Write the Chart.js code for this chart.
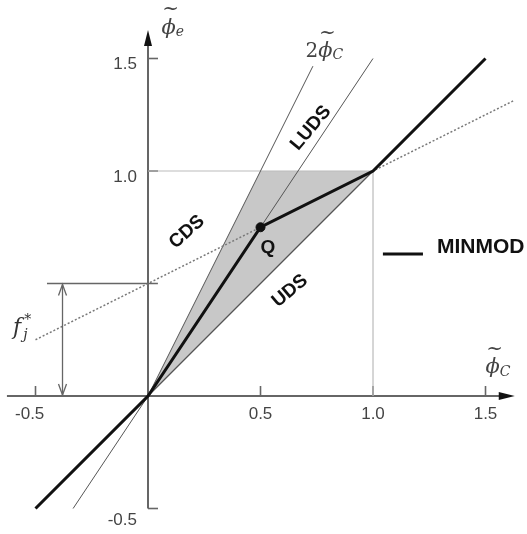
<!DOCTYPE html>
<html>
<head>
<meta charset="utf-8">
<script src="https://cdn.jsdelivr.net/npm/chart.js@4.4.0/dist/chart.umd.min.js"></script>
<style>
  html, body { margin: 0; padding: 0; background: #fff; }
  #wrap { width: 527px; height: 534px; }
</style>
</head>
<body>
<div id="wrap"><canvas id="nvd" width="527" height="534"></canvas></div>
<script>
// normalised variable diagram: face value against upwind-node value
const minmodX = [-0.5, 0, 0.5, 1, 1.5];
const minmodY = [-0.5, 0, 0.75, 1, 1.5];
const cdsX = [-0.5, 1.63];
const cdsY = [0.25, 1.315];
const ludsX = [-0.333, 1];
const ludsY = [-0.5, 1.5];
const twiceX = [0, 0.733];
const twiceY = [0, 1.466];
const udsX = [0, 1];
const udsY = [0, 1];
const tvdX = [0, 0.5, 1, 0];
const tvdY = [0, 1, 1, 0];
const guideX = [0, 1, 1];
const guideY = [1, 1, 0];
const qPoint = [0.5, 0.75];
const xTicks = [-0.5, 0.5, 1.0, 1.5];
const xTickLabels = ['-0.5', '0.5', '1.0', '1.5'];
const yTicks = [1.5, 1.0, -0.5];
const yTickLabels = ['1.5', '1.0', '-0.5'];
const fStar = 0.5;

function pts(xs, ys) {
  return xs.map((x, i) => ({ x: x, y: ys[i] }));
}

function lineSet(data, color, width, order, dash) {
  return {
    data: data,
    showLine: true,
    borderColor: color,
    borderWidth: width,
    borderDash: dash || [],
    pointRadius: 0,
    fill: false,
    order: order
  };
}

function arrowHead(ctx, x, y, dx, dy, len, half) {
  // filled triangle pointing along (dx, dy)
  ctx.beginPath();
  ctx.moveTo(x, y);
  ctx.lineTo(x - dx * len - dy * half, y - dy * len + dx * half);
  ctx.lineTo(x - dx * len + dy * half, y - dy * len - dx * half);
  ctx.closePath();
  ctx.fill();
}

function openHead(ctx, x, y, dir) {
  ctx.beginPath();
  ctx.moveTo(x - 4, y - dir * 11);
  ctx.lineTo(x, y);
  ctx.lineTo(x + 4, y - dir * 11);
  ctx.stroke();
}

function phiLabel(ctx, x, y, pre, sub) {
  ctx.save();
  ctx.fillStyle = '#444';
  ctx.textBaseline = 'middle';
  ctx.textAlign = 'left';
  let cx = x;
  if (pre) {
    ctx.font = '20px "DejaVu Serif"';
    ctx.fillText(pre, cx, y);
    cx += ctx.measureText(pre).width;
  }
  ctx.font = 'italic 21px "DejaVu Serif"';
  ctx.fillText('\u03d5', cx, y);
  const w = ctx.measureText('\u03d5').width;
  ctx.font = '20px "DejaVu Serif"';
  ctx.textAlign = 'center';
  ctx.fillText('~', cx + w / 2 + 2, y - 18);
  ctx.textAlign = 'left';
  ctx.font = 'italic 14px "DejaVu Serif"';
  ctx.fillText(sub, cx + w, y + 4);
  ctx.restore();
}

function rotText(ctx, text, x, y, deg) {
  ctx.save();
  ctx.translate(x, y);
  ctx.rotate(deg * Math.PI / 180);
  ctx.fillText(text, 0, 0);
  ctx.restore();
}

const axesPlugin = {
  id: 'nvdAxes',
  beforeDatasetsDraw(chart) {
    const ctx = chart.ctx;
    const sx = chart.scales.x, sy = chart.scales.y;
    const x0 = sx.getPixelForValue(0), y0 = sy.getPixelForValue(0);
    ctx.save();
    ctx.strokeStyle = '#666';
    ctx.fillStyle = '#111';
    ctx.lineWidth = 2;
    // horizontal axis
    const xa = sx.getPixelForValue(-0.627), xb = sx.getPixelForValue(1.63);
    ctx.beginPath();
    ctx.moveTo(xa, y0);
    ctx.lineTo(xb - 10, y0);
    ctx.stroke();
    arrowHead(ctx, xb, y0, 1, 0, 16, 4);
    // vertical axis
    const ya = sy.getPixelForValue(-0.5), yb = sy.getPixelForValue(1.627);
    ctx.beginPath();
    ctx.moveTo(x0, ya);
    ctx.lineTo(x0, yb + 10);
    ctx.stroke();
    arrowHead(ctx, x0, yb, 0, -1, 16, 4);
    // ticks
    ctx.lineWidth = 1.6;
    xTicks.forEach(v => {
      const p = sx.getPixelForValue(v);
      ctx.beginPath();
      ctx.moveTo(p, y0);
      ctx.lineTo(p, y0 - 10);
      ctx.stroke();
    });
    yTicks.forEach(v => {
      const p = sy.getPixelForValue(v);
      ctx.beginPath();
      ctx.moveTo(x0, p);
      ctx.lineTo(x0 + 10, p);
      ctx.stroke();
    });
    // tick labels
    ctx.fillStyle = '#444';
    ctx.font = '17px "Liberation Sans"';
    ctx.textBaseline = 'middle';
    ctx.textAlign = 'center';
    xTicks.forEach((v, i) => {
      const t = xTickLabels[i];
      const shift = t.charAt(0) === '-' ? ctx.measureText('-').width / 2 + 3 : 0;
      ctx.fillText(t, sx.getPixelForValue(v) - shift, y0 + 18);
    });
    ctx.textAlign = 'right';
    yTicks.forEach((v, i) => {
      const dy = v < 0 ? 12 : 6;
      ctx.fillText(yTickLabels[i], x0 - 11, sy.getPixelForValue(v) + dy);
    });
    ctx.restore();
  },
  afterDatasetsDraw(chart) {
    const ctx = chart.ctx;
    const sx = chart.scales.x, sy = chart.scales.y;
    const px = v => sx.getPixelForValue(v);
    const py = v => sy.getPixelForValue(v);
    ctx.save();

    // intercept marker f_j*
    ctx.strokeStyle = '#666';
    ctx.lineWidth = 1.6;
    ctx.beginPath();
    ctx.moveTo(px(-0.449), py(fStar));
    ctx.lineTo(px(0.044), py(fStar));
    ctx.stroke();
    const ax = px(-0.38);
    ctx.lineWidth = 1.3;
    ctx.beginPath();
    ctx.moveTo(ax, py(fStar) + 1);
    ctx.lineTo(ax, py(0) - 1);
    ctx.stroke();
    openHead(ctx, ax, py(fStar) + 1, -1);
    openHead(ctx, ax, py(0) - 1, 1);

    ctx.fillStyle = '#333';
    ctx.font = 'italic 22px "DejaVu Serif"';
    ctx.textAlign = 'left';
    ctx.textBaseline = 'middle';
    ctx.fillText('f', px(-0.6), py(0.3));
    ctx.font = 'italic 14px "DejaVu Serif"';
    ctx.fillText('j', px(-0.555), py(0.27));
    ctx.fillText('*', px(-0.55), py(0.335));

    // axis names
    phiLabel(ctx, px(0.06), py(1.635), '', 'e');
    phiLabel(ctx, px(0.7), py(1.53), '2', 'C');
    phiLabel(ctx, px(1.5), py(0.125), '', 'C');

    // scheme names
    ctx.fillStyle = '#111';
    ctx.font = 'bold 19px "Liberation Sans"';
    ctx.textAlign = 'center';
    ctx.textBaseline = 'middle';
    rotText(ctx, 'CDS', px(0.173), py(0.729), -42);
    rotText(ctx, 'UDS', px(0.631), py(0.467), -40);
    rotText(ctx, 'LUDS', px(0.724), py(1.191), -50);
    ctx.fillText('Q', px(0.533), py(0.658));

    // legend entry
    ctx.strokeStyle = '#111';
    ctx.lineWidth = 3;
    ctx.beginPath();
    ctx.moveTo(px(1.044), py(0.631));
    ctx.lineTo(px(1.222), py(0.631));
    ctx.stroke();
    ctx.font = 'bold 21px "Liberation Sans"';
    ctx.textAlign = 'left';
    ctx.fillText('MINMOD', px(1.284), py(0.662));
    ctx.restore();
  }
};

new Chart(document.getElementById('nvd'), {
  type: 'scatter',
  data: {
    datasets: [
      lineSet(pts(minmodX, minmodY), '#111', 3, 0),
      {
        data: [{ x: qPoint[0], y: qPoint[1] }],
        showLine: false,
        pointRadius: 4.5,
        pointBackgroundColor: '#111',
        pointBorderColor: '#111',
        order: 0
      },
      lineSet(pts(cdsX, cdsY), '#7a7a7a', 1.5, 3, [2, 2]),
      lineSet(pts(ludsX, ludsY), '#555', 1, 4),
      lineSet(pts(twiceX, twiceY), '#555', 1, 4),
      lineSet(pts(udsX, udsY), '#555', 1.2, 4),
      lineSet(pts(guideX, guideY), '#bbb', 1.2, 6),
      {
        data: pts(tvdX, tvdY),
        showLine: true,
        borderWidth: 0,
        borderColor: 'rgba(0,0,0,0)',
        backgroundColor: '#c8c8c8',
        fill: 'shape',
        pointRadius: 0,
        order: 10
      }
    ]
  },
  options: {
    responsive: false,
    animation: false,
    layout: { padding: 0, autoPadding: false },
    plugins: {
      legend: { display: false },
      tooltip: { enabled: false }
    },
    scales: {
      x: { type: 'linear', min: -0.6578, max: 1.6844, display: false },
      y: { type: 'linear', min: -0.6133, max: 1.76, display: false }
    }
  },
  plugins: [axesPlugin]
});
</script>
</body>
</html>
